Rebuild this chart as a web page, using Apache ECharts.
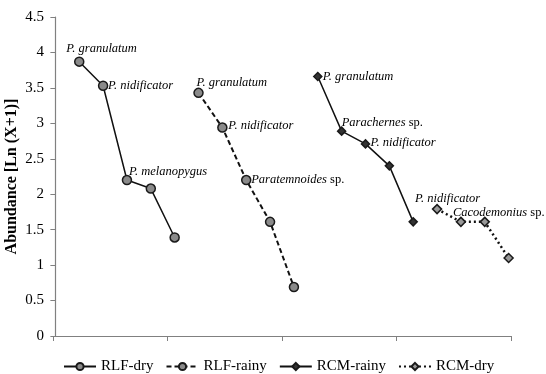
<!DOCTYPE html>
<html><head><meta charset="utf-8">
<script src="https://cdn.jsdelivr.net/npm/echarts@6/dist/echarts.min.js"></script>
<style>html,body{margin:0;padding:0;background:#fff}#c{width:546px;height:374px}</style>
</head><body><div id="c"></div>
<script>
// ---- data ----
const seriesNames = ['RLF-dry', 'RLF-rainy', 'RCM-rainy', 'RCM-dry'];
const rlfDry   = [3.87, 3.53, 2.20, 2.08, 1.39];
const rlfRainy = [3.43, 2.94, 2.20, 1.61, 0.69];
const rcmRainy = [3.66, 2.89, 2.71, 2.40, 1.61];
const rcmDry   = [1.79, 1.61, 1.61, 1.10];
const rlfDryLabels   = ['P. granulatum', 'P. nidificator', 'P. melanopygus', '', ''];
const rlfRainyLabels = ['P. granulatum', 'P. nidificator', 'Paratemnoides sp.', '', ''];
const rcmRainyLabels = ['P. granulatum', 'Parachernes sp.', 'P. nidificator', '', ''];
const rcmDryLabels   = ['P. nidificator', 'Cacodemonius sp.', '', ''];
const yAxisTitle = 'Abundance [Ln (X+1)]';

// ---- label placement (style only: text-left / text-middle offset from point) ----
const labelOffsets = [
  [[-13, -13], [5, 0], [2, -8], null, null],
  [[-2, -10], [6, -2], [5, 0], null, null],
  [[5, 0], [0, -8], [5, -1], null, null],
  [[-22, -10], [-8, -9], null, null]
];

const allValues = [rlfDry, rlfRainy, rcmRainy, rcmDry];
const allLabels = [rlfDryLabels, rlfRainyLabels, rcmRainyLabels, rcmDryLabels];

const FONT = '"Liberation Serif", "Times New Roman", serif';

function fmtLabel(t) {
  if (t.endsWith(' sp.')) return '{i|' + t.slice(0, -4) + '}{n| sp.}';
  return '{i|' + t + '}';
}

let idx = 0;
const builtData = allValues.map((vals, s) => vals.map((v, k) => {
  idx += 1;
  const item = { value: [idx, v] };
  const t = allLabels[s][k];
  if (t) {
    const off = labelOffsets[s][k] || [5, 0];
    item.label = {
      show: true, position: 'inside', align: 'left', verticalAlign: 'middle',
      offset: off, formatter: fmtLabel(t)
    };
  }
  return item;
}));

const lineColor = '#111';
const styles = [
  { symbol: 'circle', size: 9, fill: '#8a8a8a', line: 'solid', width: 1.5 },
  { symbol: 'circle', size: 9, fill: '#8a8a8a', line: [5, 3], width: 2 },
  { symbol: 'diamond', size: 8, fill: '#333', line: 'solid', width: 1.5 },
  { symbol: 'diamond', size: 9, fill: '#999', line: [2, 3], width: 2.5 }
];

const richStyle = {
  i: { fontFamily: FONT, fontStyle: 'italic', fontSize: 12.5, color: '#000' },
  n: { fontFamily: FONT, fontSize: 12.5, color: '#000' }
};

const series = seriesNames.map((name, s) => ({
  name, type: 'line', data: builtData[s],
  symbol: styles[s].symbol, symbolSize: styles[s].size,
  lineStyle: { color: lineColor, width: styles[s].width, type: styles[s].line },
  itemStyle: { color: styles[s].fill, borderColor: '#1a1a1a', borderWidth: 1.5 },
  label: { show: false, rich: richStyle },
  emphasis: { disabled: true },
  animation: false, z: 3
}));

const chart = echarts.init(document.getElementById('c'), null, { renderer: 'canvas' });
chart.setOption({
  animation: false,
  backgroundColor: '#fff',
  grid: { left: 53, right: 35, top: 17, bottom: 38, containLabel: false, outerBoundsMode: 'none' },
  xAxis: {
    type: 'value', min: -0.1, max: 19.1, interval: 4.8,
    axisLine: { show: true, lineStyle: { color: '#808080', width: 1.2 } },
    axisTick: { show: true, length: 5, inside: false, lineStyle: { color: '#808080' } },
    axisLabel: { show: false },
    splitLine: { show: false }
  },
  yAxis: {
    type: 'value', min: 0, max: 4.5, interval: 0.5,
    name: yAxisTitle, nameLocation: 'middle', nameGap: 33, nameRotate: 90,
    nameMoveOverlap: false,
    nameTextStyle: { fontFamily: FONT, fontWeight: 'bold', fontSize: 16, color: '#000' },
    axisLine: { show: true, lineStyle: { color: '#808080', width: 1.2 } },
    axisTick: { show: true, length: 5, inside: false, lineStyle: { color: '#808080' } },
    axisLabel: { fontFamily: FONT, fontSize: 15, color: '#000', margin: 9 },
    splitLine: { show: false }
  },
  legend: {
    data: seriesNames, left: 58, top: 354,
    itemWidth: 32, itemHeight: 9, itemGap: 12,
    textStyle: { fontFamily: FONT, fontSize: 15, color: '#000' }
  },
  series
});
</script></body></html>
